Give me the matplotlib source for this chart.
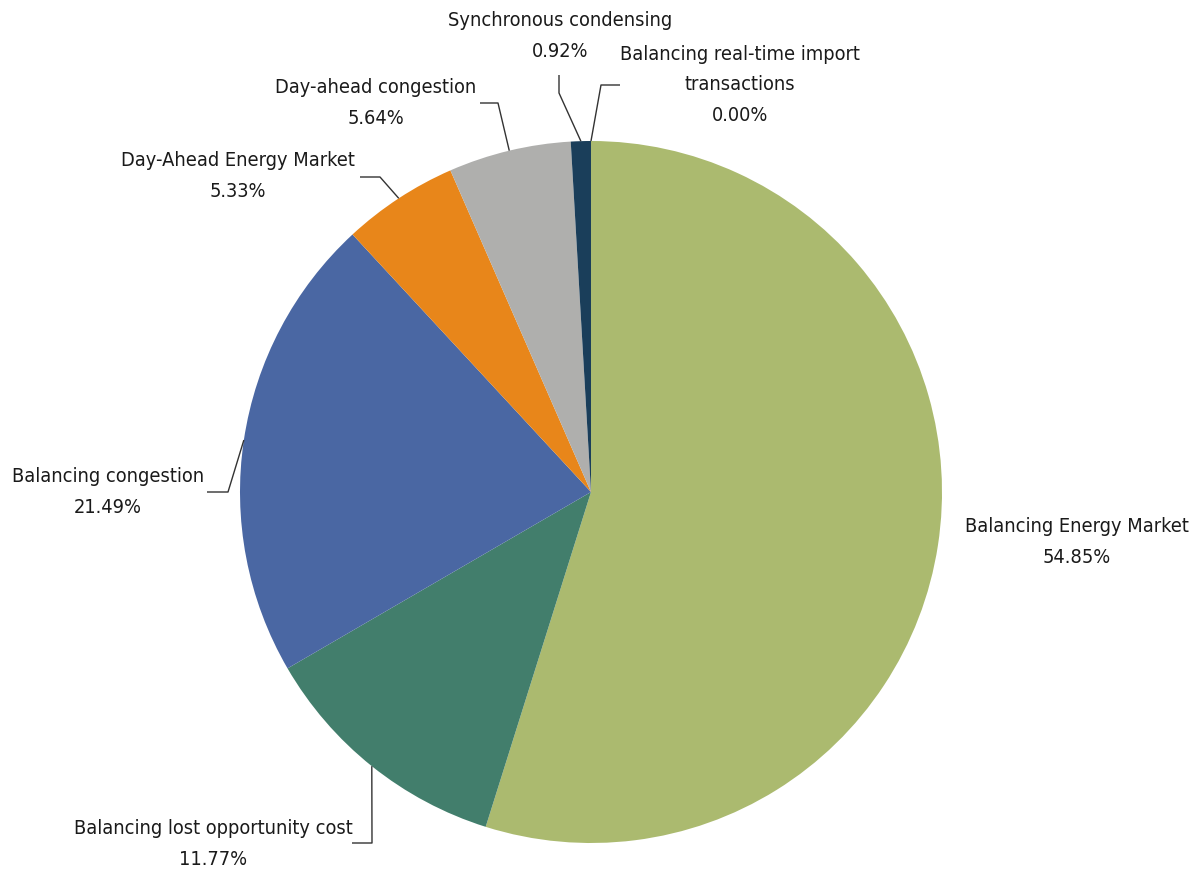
import numpy as np
import matplotlib
matplotlib.use("Agg")
import matplotlib.pyplot as plt
from matplotlib import font_manager as fm

# data
categories = ["Balancing Energy Market", "Balancing lost opportunity cost",
              "Balancing congestion", "Day-Ahead Energy Market",
              "Day-ahead congestion", "Synchronous condensing",
              "Balancing real-time import\ntransactions"]
shares = [54.85, 11.77, 21.49, 5.33, 5.64, 0.92, 0.00]
colors = ["#ABBA6F", "#427E6C", "#4A67A3", "#E8861A", "#AFAFAD", "#1A3E5A", "#1A3E5A"]

# pick a narrow-ish font if one is there
names = {f.name for f in fm.fontManager.ttflist}
if "Liberation Sans Narrow" in names:
    font = dict(family="Liberation Sans Narrow", fontsize=15)
elif any(f.name == "DejaVu Sans" and f.stretch == "condensed" for f in fm.fontManager.ttflist):
    font = dict(family="DejaVu Sans", fontstretch="condensed", fontsize=14.3)
else:
    font = dict(family=["Liberation Sans", "DejaVu Sans"], fontsize=14)

W, H = 1194, 873
fig = plt.figure(figsize=(W / 100, H / 100), dpi=100)
ax = fig.add_axes([0, 0, 1, 1])

cx, cy, r = 591, H - 492, 351
wedges, _ = ax.pie(shares, colors=colors, startangle=90, counterclock=False,
                   center=(cx, cy), radius=r, frame=True,
                   wedgeprops=dict(linewidth=0))
ax.set_xlim(0, W)
ax.set_ylim(0, H)
ax.set_aspect("equal")
ax.axis("off")

# label layout (pixel coords from top-left): text centre, elbow point, line end
layout = [
    ((1077, 542), None, None),
    ((213, 844), (372, 843), (352, 843)),
    ((108, 492), (228, 492), (207, 492)),
    ((238, 176), (380, 177), (360, 177)),
    ((376, 103), (498, 103), (480, 103)),
    ((560, 36), (559, 93), (559, 75)),
    ((740, 85), (601, 85), (620, 85)),
]

for w, name, val, (tpos, elbow, end) in zip(wedges, categories, shares, layout):
    mid = np.deg2rad((w.theta1 + w.theta2) / 2)
    ax.text(tpos[0], H - tpos[1], f"{name}\n{val:.2f}%", ha="center", va="center",
            linespacing=1.75, color="#1a1a1a", **font)
    if elbow is not None:
        x0, y0 = cx + r * np.cos(mid), cy + r * np.sin(mid)
        ax.plot([x0, elbow[0], end[0]], [y0, H - elbow[1], H - end[1]],
                color="#333333", lw=1.0, solid_capstyle="butt")

fig.savefig("out.png", dpi=100)
